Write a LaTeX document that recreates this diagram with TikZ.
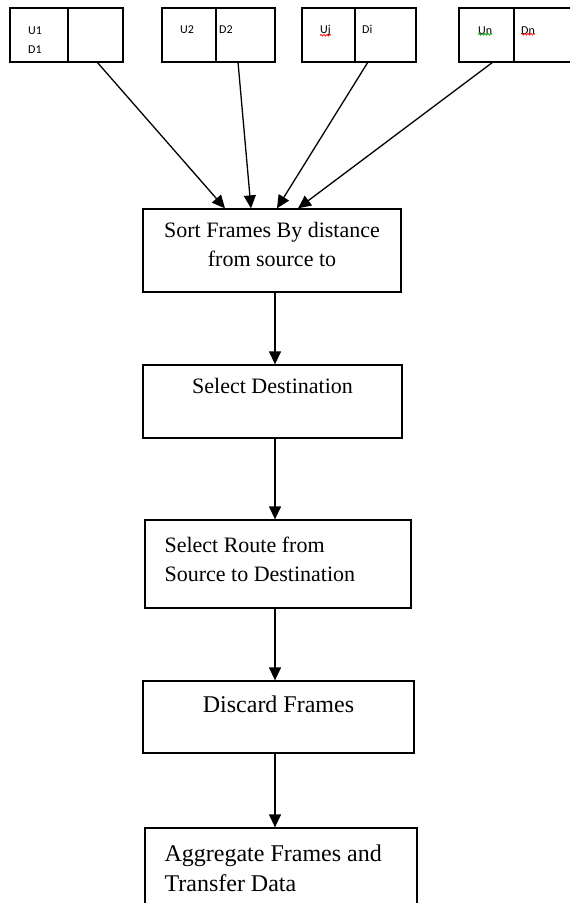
\documentclass[tikz,border=0pt]{standalone}
\usepackage{fontspec}
\setmainfont{Liberation Serif}
\newfontfamily\lblfont{Carlito}
\usetikzlibrary{arrows.meta, positioning, decorations.pathmorphing}
\tikzset{
  cellbox/.style={draw, line width=1.3pt, minimum height=54pt, inner sep=0pt, outer sep=0pt},
  stepbox/.style={draw, line width=1.3pt, inner sep=0pt},
  lbl/.style={font=\lblfont\fontsize{12}{14}\selectfont, inner sep=0pt, anchor=base west},
  txt/.style={font=\fontsize{22}{29}\selectfont, inner sep=0pt},
  bigtxt/.style={font=\fontsize{24}{30}\selectfont, inner sep=0pt},
  arr/.style={-{Triangle[length=13pt,width=12pt]}, line width=1.3pt},
  typo/.style={decorate, decoration={snake, amplitude=0.9pt, segment length=3pt}, line width=0.7pt},
}

\begin{document}
\begin{tikzpicture}[x=1pt, y=-1pt]
  \useasboundingbox (0,0) rectangle (570,903);

  % frames U/D
  \node[cellbox, minimum width=58pt] (u1) at (39,35) {};
  \node[cellbox, minimum width=55pt, right=0pt of u1] (d1) {};
  \node[cellbox, minimum width=54pt] (u2) at (189,35) {};
  \node[cellbox, minimum width=59pt, right=0pt of u2] (d2) {};
  \node[cellbox, minimum width=53pt] (u3) at (328.5,35) {};
  \node[cellbox, minimum width=61pt, right=0pt of u3] (d3) {};
  \node[cellbox, minimum width=55pt] (u4) at (486.5,35) {};
  \node[cellbox, minimum width=58pt, right=0pt of u4] (d4) {};

  \node[lbl] (u1t) at (28,34) {U1};
  \node[lbl] (d1t) at (28,53) {D1};
  \node[lbl] (u2t) at (180,33) {U2};
  \node[lbl] (d2t) at (219,33) {D2};
  \node[lbl] (u3t) at (320,33) {Uj};
  \node[lbl] (d3t) at (362,33) {Di};
  \node[lbl] (u4t) at (478,34) {Un};
  \node[lbl] (d4t) at (521,34) {Dn};
  \draw[typo, red] (u3t.south west) -- (u3t.south east);
  \draw[typo, green!60!black] (u4t.south west) -- (u4t.south east);
  \draw[typo, red] (d4t.south west) -- (d4t.south east);

  % process steps
  \node[stepbox, minimum width=258pt, minimum height=83pt] (sort) at (272,250.5) {};
  \node[txt, align=center, below=14pt of sort.north] (sorttxt)
    {Sort Frames By distance\\from source to};

  \node[stepbox, minimum width=259pt, minimum height=73pt] (dest) at (272.5,401.5) {};
  \node[txt, below=14pt of dest.north] (desttxt) {Select Destination};

  \node[stepbox, minimum width=266pt, minimum height=88pt] (route) at (278,564) {};
  \node[txt, align=left, below right=17pt and 20pt of route.north west] (routetxt)
    {Select Route from\\Source to Destination};

  \node[stepbox, minimum width=271pt, minimum height=72pt] (discard) at (278.5,717) {};
  \node[bigtxt, below=15pt of discard.north] (discardtxt) {Discard Frames};

  \node[stepbox, minimum width=272pt, minimum height=100pt] (aggr) at (281,878) {};
  \node[bigtxt, align=left, below right=17pt and 20pt of aggr.north west] (aggrtxt)
    {Aggregate Frames and\\Transfer Data};

  % arrows
  \draw[arr] ([xshift=1.5pt]d1.south) -- ([xshift=-47pt]sort.north);
  \draw[arr] ([xshift=-7.5pt]d2.south) -- ([xshift=-21pt]sort.north);
  \draw[arr] ([xshift=-17.5pt]d3.south) -- ([xshift=5pt]sort.north);
  \draw[arr] ([xshift=6.5pt]u4.south) -- ([xshift=26pt]sort.north);

  \coordinate (spine) at (275,0);
  \draw[arr] (sort.south -| spine) -- (dest.north -| spine);
  \draw[arr] (dest.south -| spine) -- (route.north -| spine);
  \draw[arr] (route.south -| spine) -- (discard.north -| spine);
  \draw[arr] (discard.south -| spine) -- (aggr.north -| spine);
\end{tikzpicture}
\end{document}
